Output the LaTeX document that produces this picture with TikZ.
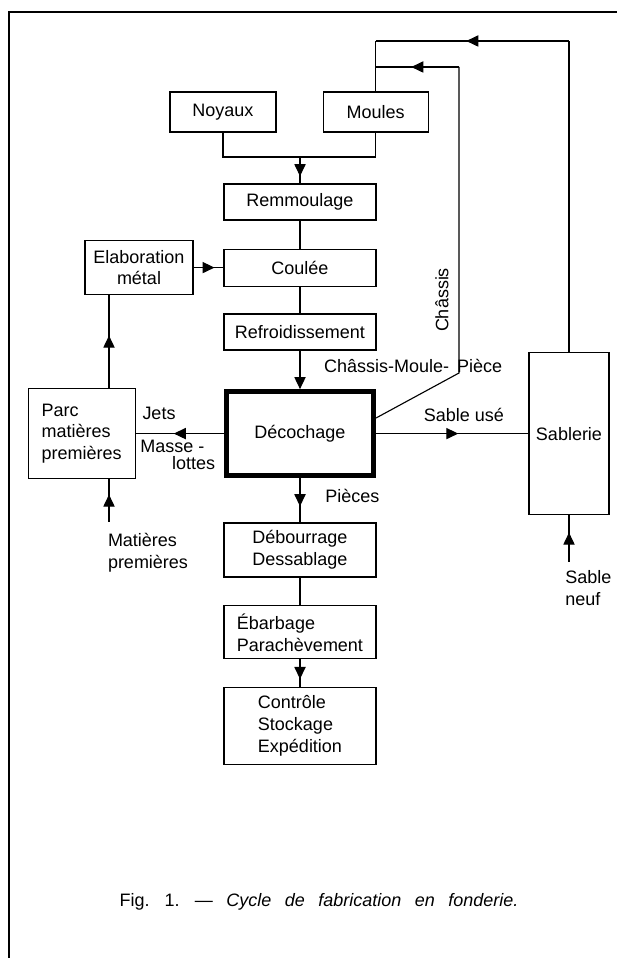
\documentclass[tikz,border=0pt]{standalone}
\usepackage{fontspec}
\setmainfont{Liberation Sans}
\usetikzlibrary{arrows.meta,decorations.markings}

\begin{document}
\begin{tikzpicture}[
  line width=0.8pt,
  every node/.style={font=\fontsize{12.8}{15.5}\selectfont},
  boite/.style={draw, inner sep=0pt, align=center},
  fleche/.style={postaction={decorate}, decoration={markings,
    mark=at position 0.5 with {\arrow[xshift=1.5mm]{Triangle[length=3mm,width=2.8mm]}}}}
]

\useasboundingbox (0,0) rectangle (15.425,23.95);
\draw (0.225,0) -- (0.225,23.65) -- (15.425,23.65);

\node[boite, minimum width=2.65cm, minimum height=1cm] (noyaux) at (5.575,21.15) {Noyaux};
\node[boite, minimum width=2.625cm, minimum height=1cm] (moules) at (9.39,21.15) {Moules};

\node[boite, minimum width=3.8cm, minimum height=0.9cm] (remmoulage) at (7.5,18.9) {Remmoulage};
\node[boite, minimum width=3.8cm, minimum height=0.925cm] (coulee) at (7.5,17.26) {Coulée};
\node[boite, minimum width=3.8cm, minimum height=0.9cm] (refroid) at (7.5,15.65) {Refroidissement};
\node[boite, line width=3.5pt, minimum width=3.68cm, minimum height=2.1cm] (decochage) at (7.5,13.11) {Décochage};
\node[boite, minimum width=3.8cm, minimum height=1.35cm] (debourrage) at (7.5,10.2) {Débourrage\\Dessablage};
\node[boite, align=left, minimum width=3.8cm, minimum height=1.325cm] (ebarbage) at (7.5,8.14) {Ébarbage\\Parachèvement};
\node[boite, align=left, minimum width=3.8cm, minimum height=1.925cm] (controle) at (7.5,5.81) {Contrôle\\Stockage\\Expédition};

\node[boite, minimum width=2.7cm, minimum height=1.35cm] (elab) at (3.475,17.26) {Elaboration\\métal};
\node[boite, align=left, minimum width=2.675cm, minimum height=2.25cm] (parc) at (2.04,13.11) {Parc\\matières\\premières};
\node[boite, minimum width=2cm, minimum height=4.05cm] (sablerie) at (14.225,13.11) {Sablerie};

\coordinate (jonction) at (7.5,20.025);
\coordinate (coude) at (11.475,14.625);
\coordinate (chassis) at (11.475,22.275);
\coordinate (retour) at (14.225,22.925);
\coordinate (matieres) at (2.725,10.9);
\coordinate (neuf) at (14.225,9.9);

\draw (noyaux.south) |- (jonction) -| (moules.south);
\draw[fleche] (jonction) -- (remmoulage.north);
\draw (remmoulage.south) -- (coulee.north);
\draw (coulee.south) -- (refroid.north);
\draw[-{Triangle[length=3mm,width=2.8mm]}] (refroid.south) -- (decochage.north);
\draw[fleche] (elab.east) -- (coulee.west);
\draw[fleche] (matieres |- parc.north) -- (matieres |- elab.south);
\draw[fleche] (matieres) -- (matieres |- parc.south);
\draw[fleche] (decochage.west) -- (parc.east);
\draw[fleche] (decochage.east) -- (sablerie.west);
\draw[fleche] (decochage.south) -- (debourrage.north);
\draw (debourrage.south) -- (ebarbage.north);
\draw[fleche] (ebarbage.south) -- (controle.north);
\draw[fleche] (neuf) -- (sablerie.south);

\draw ([yshift=3.9mm]decochage.east) -- (coude) -- (chassis);
\draw[fleche] (chassis) -- (chassis -| moules.north);
\draw (sablerie.north) -- (retour);
\draw[fleche] (retour) -- (retour -| moules.north);
\draw (retour -| moules.north) -- (moules.north);

\node[rotate=90] (lchassis) at (11.05,16.45) {Châssis};
\node (lcmp) at (10.33,14.8) {Châssis-Moule-\hspace{2mm}Pièce};
\node (lsable) at (11.6,13.575) {Sable usé};
\node (lpieces) at (8.81,11.55) {Pièces};
\node (ljets) at (3.975,13.625) {Jets};
\node (lmasse) at (4.31,12.8) {Masse -};
\node (llottes) at (4.84,12.375) {lottes};
\node[align=left] (lmatieres) at (3.7,10.125) {Matières\\premières};
\node[align=left] (lneuf) at (14.71,9.24) {Sable\\neuf};

\node (legende) at (7.975,1.4) {\spaceskip=0.75em\relax Fig. 1. --- \textit{Cycle de fabrication en fonderie.}};

\end{tikzpicture}
\end{document}
